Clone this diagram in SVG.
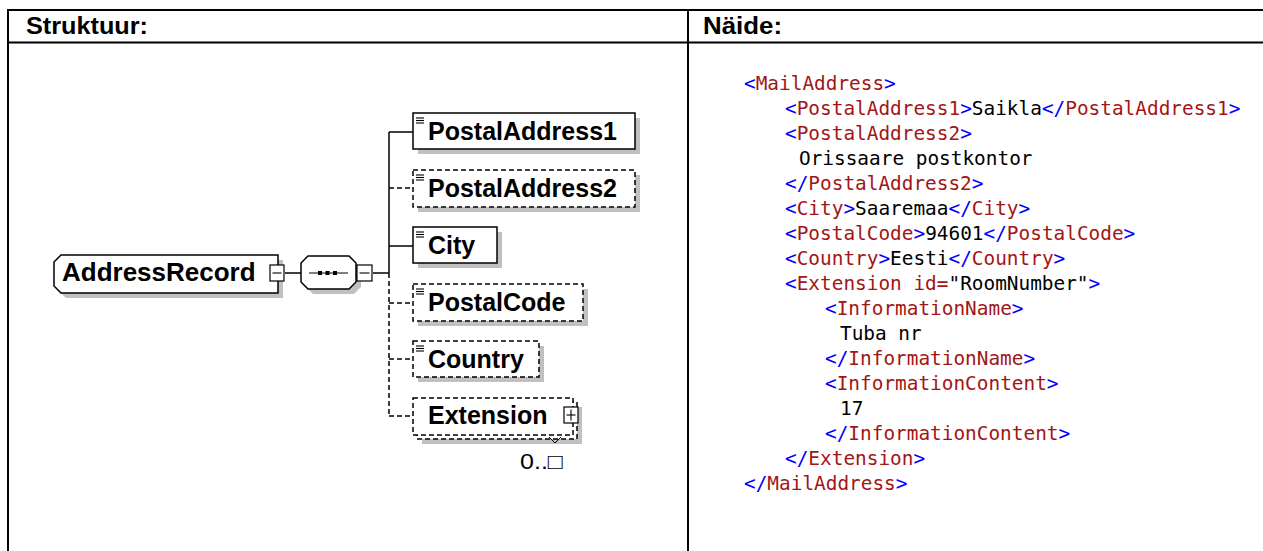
<svg xmlns="http://www.w3.org/2000/svg" width="1263" height="551" viewBox="0 0 1263 551">
<style>
.grid{stroke:#000;stroke-width:2;fill:none}
.hdr{font-family:"Liberation Sans",Arial,sans-serif;font-weight:bold;font-size:23px;fill:#000}
.shadow{fill:#c0c0c0;stroke:none}
.box{fill:#fff;stroke:#000;stroke-width:1.5}
.dbox{fill:#fff;stroke:#000;stroke-width:1.5;stroke-dasharray:5 3}
.lbl{font-family:"Liberation Sans",Arial,sans-serif;font-weight:bold;font-size:25px;fill:#000}
.ico{stroke:#000;stroke-width:1.1}
.btn{fill:#fff;stroke:#000;stroke-width:1.2}
.sol{stroke:#000;stroke-width:1.5;fill:none}
.dsh{stroke:#000;stroke-width:1.5;fill:none;stroke-dasharray:5 3}
.code{font-family:"DejaVu Sans Mono","Liberation Mono",monospace;font-size:19.4px;fill:#000}
.b{fill:#0000ff}
.r{fill:#a31515}
.occ{font-family:"Liberation Sans","DejaVu Sans",sans-serif;font-size:22px;fill:#000}
</style>

<g id="table">
<line class="grid" x1="7" y1="10" x2="1263" y2="10"/>
<line class="grid" x1="7" y1="42.5" x2="1263" y2="42.5"/>
<line class="grid" x1="8" y1="9" x2="8" y2="551"/>
<line class="grid" x1="688" y1="9" x2="688" y2="551"/>
<text class="hdr" x="26" y="34" textLength="122" lengthAdjust="spacingAndGlyphs">Struktuur:</text>
<text class="hdr" x="703" y="34" textLength="79" lengthAdjust="spacingAndGlyphs">Näide:</text>
</g>

<g id="connectors">
<line class="sol" x1="285" y1="273" x2="301" y2="273"/>
<line class="sol" x1="373" y1="273" x2="389" y2="273"/>
<line class="sol" x1="389" y1="132" x2="389" y2="273"/>
<line class="dsh" x1="389" y1="273" x2="389" y2="415"/>
<line class="sol" x1="389" y1="132" x2="413" y2="132"/>
<line class="dsh" x1="389" y1="188" x2="413" y2="188"/>
<line class="sol" x1="389" y1="246" x2="413" y2="246"/>
<line class="dsh" x1="389" y1="303" x2="413" y2="303"/>
<line class="dsh" x1="389" y1="359" x2="413" y2="359"/>
<line class="dsh" x1="389" y1="416" x2="413" y2="416"/>
</g>

<g id="AddressRecord">
<polygon class="shadow" points="66,260 283,260 283,298 66,298 59,291 59,267"/>
<polygon class="box" points="61,255 278,255 278,293 61,293 54,286 54,262"/>
<text class="lbl" x="62" y="281" style="font-size:26px">AddressRecord</text>
<rect class="btn" x="270" y="265" width="14" height="16"/>
<line class="ico" x1="272.5" y1="273" x2="281.5" y2="273"/>
</g>

<g id="sequence">
<polygon class="shadow" points="313,261 354,261 361,268 361,287 354,294 313,294 306,287 306,268"/>
<polygon class="box" points="308,256 349,256 356,263 356,282 349,289 308,289 301,282 301,263"/>
<line class="ico" x1="309" y1="273" x2="348" y2="273"/>
<rect x="318" y="271" width="4" height="4" fill="#000"/>
<rect x="325.5" y="271" width="4" height="4" fill="#000"/>
<rect x="333" y="271" width="4" height="4" fill="#000"/>
<rect class="btn" x="357" y="265" width="15" height="16"/>
<line class="ico" x1="359.5" y1="273" x2="369.5" y2="273"/>
</g>

<g id="PostalAddress1">
<rect class="shadow" x="418" y="118" width="222" height="36"/>
<rect class="box" x="413" y="113" width="222" height="36"/>
<line class="ico" x1="416" y1="118" x2="424" y2="118"/>
<line class="ico" x1="416" y1="120.5" x2="424" y2="120.5"/>
<line class="ico" x1="416" y1="123" x2="424" y2="123"/>
<text class="lbl" x="428" y="140">PostalAddress1</text>
</g>

<g id="PostalAddress2">
<rect class="shadow" x="418" y="175" width="222" height="37"/>
<rect class="dbox" x="413" y="170" width="222" height="37"/>
<line class="ico" x1="416" y1="175" x2="424" y2="175"/>
<line class="ico" x1="416" y1="177.5" x2="424" y2="177.5"/>
<line class="ico" x1="416" y1="180" x2="424" y2="180"/>
<text class="lbl" x="428" y="197">PostalAddress2</text>
</g>

<g id="City">
<rect class="shadow" x="418" y="232" width="84" height="36"/>
<rect class="box" x="413" y="227" width="84" height="36"/>
<line class="ico" x1="416" y1="232" x2="424" y2="232"/>
<line class="ico" x1="416" y1="234.5" x2="424" y2="234.5"/>
<line class="ico" x1="416" y1="237" x2="424" y2="237"/>
<text class="lbl" x="428" y="254">City</text>
</g>

<g id="PostalCode">
<rect class="shadow" x="418" y="289" width="170" height="37"/>
<rect class="dbox" x="413" y="284" width="170" height="37"/>
<line class="ico" x1="416" y1="289" x2="424" y2="289"/>
<line class="ico" x1="416" y1="291.5" x2="424" y2="291.5"/>
<line class="ico" x1="416" y1="294" x2="424" y2="294"/>
<text class="lbl" x="428" y="311">PostalCode</text>
</g>

<g id="Country">
<rect class="shadow" x="418" y="346" width="126" height="36"/>
<rect class="dbox" x="413" y="341" width="126" height="36"/>
<line class="ico" x1="416" y1="346" x2="424" y2="346"/>
<line class="ico" x1="416" y1="348.5" x2="424" y2="348.5"/>
<line class="ico" x1="416" y1="351" x2="424" y2="351"/>
<text class="lbl" x="428" y="368">Country</text>
</g>

<g id="Extension">
<rect class="shadow" x="422" y="407" width="160" height="37"/>
<rect class="dbox" x="417" y="402" width="160" height="37"/>
<rect class="dbox" x="413" y="398" width="160" height="37"/>
<polyline class="sol" points="549,437 555,443 561,437" style="stroke-width:1"/>
<text class="lbl" x="428" y="424">Extension</text>
<rect class="btn" x="564" y="407" width="14" height="16"/>
<line class="ico" x1="566.5" y1="415" x2="575.5" y2="415"/>
<line class="ico" x1="571" y1="409.5" x2="571" y2="420.5"/>
<text class="occ" x="520" y="469" textLength="43" lengthAdjust="spacingAndGlyphs">0..□</text>
</g>

<g id="example" class="code">
<text x="744" y="90"><tspan class="b">&lt;</tspan><tspan class="r">MailAddress</tspan><tspan class="b">&gt;</tspan></text>
<text x="785" y="115"><tspan class="b">&lt;</tspan><tspan class="r">PostalAddress1</tspan><tspan class="b">&gt;</tspan>Saikla<tspan class="b">&lt;/</tspan><tspan class="r">PostalAddress1</tspan><tspan class="b">&gt;</tspan></text>
<text x="785" y="140"><tspan class="b">&lt;</tspan><tspan class="r">PostalAddress2</tspan><tspan class="b">&gt;</tspan></text>
<text x="799" y="165">Orissaare postkontor</text>
<text x="785" y="190"><tspan class="b">&lt;/</tspan><tspan class="r">PostalAddress2</tspan><tspan class="b">&gt;</tspan></text>
<text x="785" y="215"><tspan class="b">&lt;</tspan><tspan class="r">City</tspan><tspan class="b">&gt;</tspan>Saaremaa<tspan class="b">&lt;/</tspan><tspan class="r">City</tspan><tspan class="b">&gt;</tspan></text>
<text x="785" y="240"><tspan class="b">&lt;</tspan><tspan class="r">PostalCode</tspan><tspan class="b">&gt;</tspan>94601<tspan class="b">&lt;/</tspan><tspan class="r">PostalCode</tspan><tspan class="b">&gt;</tspan></text>
<text x="785" y="265"><tspan class="b">&lt;</tspan><tspan class="r">Country</tspan><tspan class="b">&gt;</tspan>Eesti<tspan class="b">&lt;/</tspan><tspan class="r">Country</tspan><tspan class="b">&gt;</tspan></text>
<text x="785" y="290"><tspan class="b">&lt;</tspan><tspan class="r">Extension id=</tspan>"RoomNumber"<tspan class="b">&gt;</tspan></text>
<text x="825" y="315"><tspan class="b">&lt;</tspan><tspan class="r">InformationName</tspan><tspan class="b">&gt;</tspan></text>
<text x="840" y="340">Tuba nr</text>
<text x="825" y="365"><tspan class="b">&lt;/</tspan><tspan class="r">InformationName</tspan><tspan class="b">&gt;</tspan></text>
<text x="825" y="390"><tspan class="b">&lt;</tspan><tspan class="r">InformationContent</tspan><tspan class="b">&gt;</tspan></text>
<text x="840" y="415">17</text>
<text x="825" y="440"><tspan class="b">&lt;/</tspan><tspan class="r">InformationContent</tspan><tspan class="b">&gt;</tspan></text>
<text x="785" y="465"><tspan class="b">&lt;/</tspan><tspan class="r">Extension</tspan><tspan class="b">&gt;</tspan></text>
<text x="744" y="490"><tspan class="b">&lt;/</tspan><tspan class="r">MailAddress</tspan><tspan class="b">&gt;</tspan></text>
</g>
</svg>
